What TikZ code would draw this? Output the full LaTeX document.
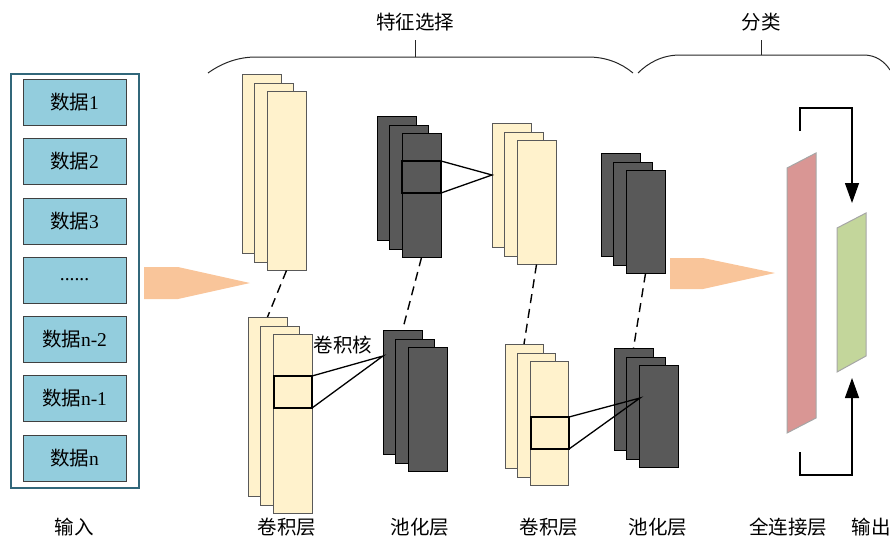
\documentclass[tikz,border=0pt]{standalone}
\usepackage{fontspec}
\setmainfont{Liberation Serif}
\newfontfamily\cjk{Noto Sans CJK SC}
\usetikzlibrary{arrows.meta,calc}
\definecolor{boxblue}{HTML}{93CDDD}
\definecolor{framecol}{HTML}{31677A}
\definecolor{convfill}{HTML}{FFF2CC}
\definecolor{poolfill}{HTML}{595959}
\definecolor{arrowcol}{HTML}{F9C59A}
\definecolor{fcred}{HTML}{D99694}
\definecolor{outgreen}{HTML}{C3D69B}
\newcommand\fs{\fontsize{19.5}{22}\selectfont}
\newcommand\mstack[6]{%
  \node[#2, minimum width=#5pt, minimum height=#6pt] (#1a) at (#3,#4) {};
  \node[#2, minimum width=#5pt, minimum height=#6pt] (#1b) at (#3+12.5,#4+9.5) {};
  \node[#2, minimum width=#5pt, minimum height=#6pt] (#1c) at (#3+25,#4+17.5) {};
}
\begin{document}
\begin{tikzpicture}[x=1pt,y=-1pt,
  frame/.style={draw=framecol, line width=1.5pt},
  databox/.style={draw=black!75, fill=boxblue, line width=1pt, minimum width=103pt, minimum height=46pt, inner sep=0pt, font=\fs},
  convmap/.style={draw=black!65, fill=convfill, line width=1pt, anchor=north west, inner sep=0pt, outer sep=0pt},
  poolmap/.style={draw=black, fill=poolfill, line width=1pt, anchor=north west, inner sep=0pt, outer sep=0pt},
  kernelbox/.style={draw=black, line width=1.5pt, anchor=north west, inner sep=0pt, outer sep=0pt},
  kline/.style={draw=black, line width=1.3pt},
  dline/.style={draw=black, line width=1.4pt, dash pattern=on 9pt off 6pt},
  brace/.style={draw=black!85, line width=1pt},
  lbl/.style={font=\fs, inner sep=0pt},
  bigarrow/.style={fill=arrowcol, draw=none},
  fcarrow/.style={draw=black, line width=1.3pt, -{Triangle[length=20pt,width=14pt]}}
]
\useasboundingbox (0,0) rectangle (890,541);

% input frame and boxes
\node[frame, minimum width=128pt, minimum height=414pt, anchor=north west, inner sep=0pt] (inframe) at (10,73) {};
\node[databox] (d1) at (74.5,102) {{\cjk 数据}1};
\node[databox] (d2) at (74.5,161) {{\cjk 数据}2};
\node[databox] (d3) at (74.5,221) {{\cjk 数据}3};
\node[databox] (d4) at (74.5,280) {......};
\node[databox] (d5) at (74.5,339) {{\cjk 数据}n-2};
\node[databox] (d6) at (74.5,398) {{\cjk 数据}n-1};
\node[databox] (d7) at (74.5,458) {{\cjk 数据}n};

% big arrows
\fill[bigarrow] (144,267) -- (178,267) -- (250,283) -- (178,299) -- (144,299) -- cycle;
\fill[bigarrow] (670,258) -- (703,258) -- (775,273) -- (703,289) -- (670,289) -- cycle;

% braces
\draw[brace] (208,73) .. controls (222,63) and (238,57) .. (256,57) -- (588,57) .. controls (606,57) and (621,63) .. (633,73);
\draw[brace] (415,57) -- (415,40);
\node[lbl] (fs) at (415,22) {\cjk 特征选择};
\draw[brace] (638,73) .. controls (648,63) and (662,55) .. (680,55) -- (864,55) .. controls (876,55) and (885,62) .. (890,70);
\draw[brace] (761,55) -- (761,40);
\node[lbl] (cls) at (761,22) {\cjk 分类};

% feature maps top row
\mstack{tc1}{convmap}{242}{74}{39}{179}
\mstack{tp1}{poolmap}{377}{116}{39}{124}
\mstack{tc2}{convmap}{492}{123}{39}{124}
\mstack{tp2}{poolmap}{601}{153}{39}{103}
% bottom row
\mstack{bc1}{convmap}{248}{317}{39}{179}
\mstack{bp1}{poolmap}{383}{330}{39}{124}
\mstack{bc2}{convmap}{505}{344}{38}{124}
\mstack{bp2}{poolmap}{614}{348}{39}{102}

% dashed links
\draw[dline] (tc1c.south) -- (bc1a.north);
\draw[dline] (tp1c.south) -- (bp1a.north);
\draw[dline] (tc2c.south) -- (bc2a.north);
\draw[dline] (tp2c.south) -- (bp2a.north);

% kernels
\node[kernelbox, minimum width=39pt, minimum height=32pt] (k1) at (402,161) {};
\coordinate (k1t) at (492,175);
\draw[kline] (k1.north east) -- (k1t) -- (k1.south east);

\node[kernelbox, minimum width=38pt, minimum height=32pt] (k2) at (274,376) {};
\coordinate (k2t) at (383,356);
\draw[kline] (k2.north east) -- (k2t) -- (k2.south east);
\node[lbl] (kl) at (343,345) {\cjk 卷积核};

\node[kernelbox, minimum width=38pt, minimum height=32pt] (k3) at (531,417) {};
\coordinate (k3t) at (640,398);
\draw[kline] (k3.north east) -- (k3t) -- (k3.south east);

% fully connected and output
\draw[draw=black!35, line width=1pt, fill=fcred] (787,168) -- (816,153) -- (816,418) -- (787,433) -- cycle;
\draw[draw=black!35, line width=1pt, fill=outgreen] (837,228) -- (866,213) -- (866,356) -- (837,372) -- cycle;
\coordinate (a1s) at (800,131);
\coordinate (a1e) at (852,203);
\draw[fcarrow] (a1s) |- (852,108) -- (a1e);
\coordinate (a2s) at (800,452);
\coordinate (a2e) at (852,378);
\draw[fcarrow] (a2s) |- (852,475) -- (a2e);

% bottom labels
\node[lbl] (l1) at (74,527) {\cjk 输入};
\node[lbl] (l2) at (287,527) {\cjk 卷积层};
\node[lbl] (l3) at (420,527) {\cjk 池化层};
\node[lbl] (l4) at (549,527) {\cjk 卷积层};
\node[lbl] (l5) at (658,527) {\cjk 池化层};
\node[lbl] (l6) at (788,527) {\cjk 全连接层};
\node[lbl] (l7) at (871,527) {\cjk 输出};
\end{tikzpicture}
\end{document}
